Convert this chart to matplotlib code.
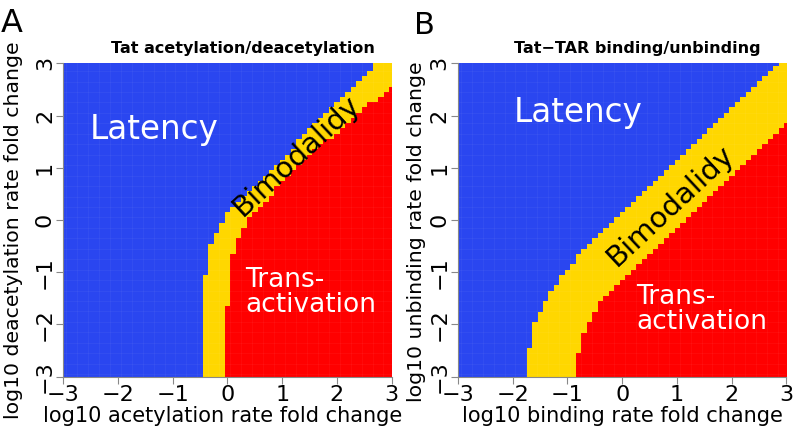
import numpy as np
import matplotlib
matplotlib.use("Agg")
import matplotlib.pyplot as plt
from matplotlib.colors import ListedColormap

# colours of the three regimes: latency / bimodality / trans-activation
BLUE, GOLD, RED = "#2a46f0", "#ffd700", "#ff0000"

# parameter grid: log10 fold changes, cells centred every 0.1 from -3 to 3
grid = np.round(np.linspace(-3.0, 3.0, 61), 1)

# for every column: cells above blue_* are latent, cells above red_* bimodal, the rest trans-activated
# A: acetylation (x) vs deacetylation (y)
blue_a = [-3.1, -3.1, -3.1, -3.1, -3.1, -3.1, -3.1, -3.1, -3.1, -3.1,
          -3.1, -3.1, -3.1, -3.1, -3.1, -3.1, -3.1, -3.1, -3.1, -3.1,
          -3.1, -3.1, -3.1, -3.1, -3.1, -3.1, -1.05, -0.45, -0.25, -0.05,
          0.15, 0.25, 0.35, 0.45, 0.55, 0.65, 0.75, 0.85, 0.95, 1.05,
          1.15, 1.25, 1.35, 1.55, 1.65, 1.75, 1.85, 1.95, 2.05, 2.15,
          2.25, 2.35, 2.45, 2.55, 2.65, 2.75, 2.85, 3.1, 3.1, 3.1,
          3.1]
red_a = [-3.1, -3.1, -3.1, -3.1, -3.1, -3.1, -3.1, -3.1, -3.1, -3.1,
         -3.1, -3.1, -3.1, -3.1, -3.1, -3.1, -3.1, -3.1, -3.1, -3.1,
         -3.1, -3.1, -3.1, -3.1, -3.1, -3.1, -3.1, -3.1, -3.1, -3.1,
         -1.65, -0.65, -0.35, -0.15, 0.05, 0.15, 0.25, 0.35, 0.45, 0.65,
         0.75, 0.85, 0.95, 1.05, 1.15, 1.25, 1.35, 1.45, 1.55, 1.55,
         1.65, 1.75, 1.85, 1.95, 2.05, 2.15, 2.25, 2.25, 2.35, 2.45,
         2.55]
# B: binding (x) vs unbinding (y)
blue_b = [-3.1, -3.1, -3.1, -3.1, -3.1, -3.1, -3.1, -3.1, -3.1, -3.1,
          -3.1, -3.1, -3.1, -2.45, -1.95, -1.75, -1.55, -1.35, -1.25, -1.05,
          -0.95, -0.85, -0.65, -0.55, -0.45, -0.35, -0.25, -0.15, -0.05, 0.05,
          0.15, 0.25, 0.35, 0.45, 0.55, 0.65, 0.75, 0.85, 0.95, 1.05,
          1.15, 1.25, 1.35, 1.45, 1.55, 1.65, 1.75, 1.85, 1.95, 2.05,
          2.15, 2.25, 2.35, 2.45, 2.55, 2.65, 2.75, 2.85, 2.95, 3.1,
          3.1]
red_b = [-3.1, -3.1, -3.1, -3.1, -3.1, -3.1, -3.1, -3.1, -3.1, -3.1,
         -3.1, -3.1, -3.1, -3.1, -3.1, -3.1, -3.1, -3.1, -3.1, -3.1,
         -3.1, -3.1, -2.55, -2.15, -1.95, -1.75, -1.55, -1.45, -1.35, -1.25,
         -1.15, -1.05, -0.95, -0.85, -0.75, -0.65, -0.55, -0.45, -0.35, -0.25,
         -0.15, -0.05, 0.05, 0.15, 0.25, 0.35, 0.45, 0.55, 0.65, 0.75,
         0.85, 0.95, 1.05, 1.15, 1.25, 1.35, 1.45, 1.55, 1.65, 1.75,
         1.85]

ticks = [-3, -2, -1, 0, 1, 2, 3]


def panel(ax, blue_edge, red_edge, xlab, ylab, lat_xy, bim_xy, tra_xy, xlab_xy, ylab_xy):
    yy = grid[:, None]
    cat = np.where(yy > np.array(blue_edge)[None, :], 0,
                   np.where(yy > np.array(red_edge)[None, :], 1, 2))
    ax.imshow(cat, origin="lower", extent=[-3.05, 3.05, -3.05, 3.05],
              cmap=ListedColormap([BLUE, GOLD, RED]), vmin=0, vmax=2,
              interpolation="nearest", aspect="auto")
    # faint cell seams, as in the rasterised original
    for e in np.arange(-2.95, 3.0, 0.2):
        ax.axvline(e, color="white", lw=0.5, alpha=0.06)
        ax.axhline(e, color="white", lw=0.5, alpha=0.06)
    ax.set_xlim(-3, 3); ax.set_ylim(-3, 3)
    for s in ("top", "right"):
        ax.spines[s].set_visible(False)
    for s in ("left", "bottom"):
        ax.spines[s].set_color("#888888"); ax.spines[s].set_linewidth(0.8)
    ax.set_xticks(ticks); ax.set_yticks(ticks)
    ax.tick_params(length=5, width=0.8, color="#888888", labelsize=16, pad=1)
    for t in ax.get_yticklabels():
        t.set_rotation(90); t.set_va("center")
    ax.set_xlabel(xlab, fontsize=15)
    ax.set_ylabel(ylab, fontsize=14.7)
    ax.xaxis.set_label_coords(*xlab_xy)
    ax.yaxis.set_label_coords(*ylab_xy)
    ax.text(*lat_xy, "Latency", color="white", fontsize=23.5, ha="center", va="center")
    ax.text(*bim_xy, "Bimodalidy", color="black", fontsize=21, ha="center", va="center",
            rotation=43, rotation_mode="anchor")
    ax.text(*tra_xy, "Trans-\nactivation", color="white", fontsize=19, ha="left", va="center",
            linespacing=0.95)


fig = plt.figure(figsize=(7.93, 4.29), dpi=100)
axA = fig.add_axes([0.0798, 0.1219, 0.4141, 0.7305])
axB = fig.add_axes([0.5776, 0.1219, 0.4140, 0.7305])

panel(axA, blue_a, red_a,
      "log10 acetylation rate fold change", "log10 deacetylation rate fold change",
      (-1.34, 1.74), (1.25, 1.22), (0.32, -1.39), (0.485, -0.093), (-0.123, 0.468))
panel(axB, blue_b, red_b,
      "log10 binding rate fold change", "log10 unbinding rate fold change",
      (-0.81, 2.05), (0.88, 0.27), (0.26, -1.71), (0.5, -0.093), (-0.097, 0.463))

fig.text(243 / 793, 1 - 49 / 429, "Tat acetylation/deacetylation", ha="center", va="center",
         fontsize=11.5, fontweight="bold")
fig.text(637 / 793, 1 - 49 / 429, "Tat\u2212TAR binding/unbinding", ha="center", va="center",
         fontsize=11.5, fontweight="bold")
fig.text(12 / 793, 1 - 24 / 429, "A", ha="center", va="center", fontsize=23)
fig.text(424 / 793, 1 - 26 / 429, "B", ha="center", va="center", fontsize=22)

fig.savefig("out.png", dpi=100)
